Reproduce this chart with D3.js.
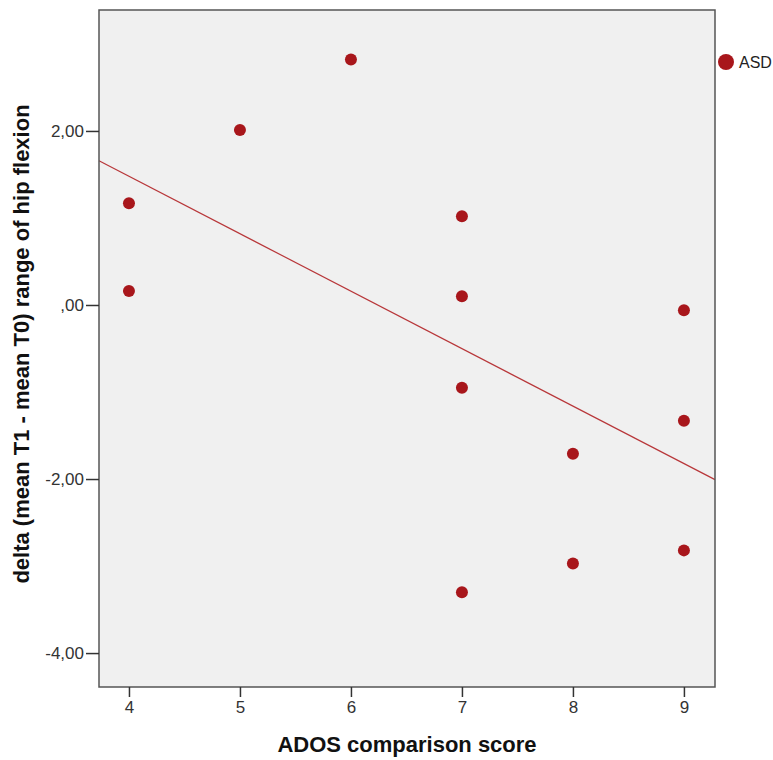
<!DOCTYPE html>
<html>
<head>
<meta charset="utf-8">
<script src="https://cdn.jsdelivr.net/npm/d3@7"></script>
<style>
  body { margin: 0; background: #fff; }
  text { font-family: "Liberation Sans", Arial, sans-serif; }
</style>
</head>
<body>
<div class="chart"></div>
<script>
const adosScore = [4, 4, 5, 6, 7, 7, 7, 7, 8, 8, 9, 9, 9];
const deltaHip = [1.17, 0.16, 2.01, 2.82, 1.02, 0.10, -0.95, -3.30, -1.71, -2.97, -0.06, -1.33, -2.82];
const xTicks = [4, 5, 6, 7, 8, 9];
const yTicks = [-4, -2, 0, 2];
const seriesName = "ASD";

const margin = { top: 10, right: 58, bottom: 73, left: 99 };
const width = 773 - margin.left - margin.right,
  height = 760 - margin.top - margin.bottom;

const pointColor = "#a8161b";
const lineColor = "#b8373a";

const svg = d3
  .select(".chart")
  .append("svg")
  .attr("width", 773)
  .attr("height", 760);

const g = svg
  .append("g")
  .attr("transform", "translate(" + margin.left + "," + margin.top + ")");

const x = d3.scaleLinear().domain([3.73, 9.28]).range([0, width]);
const y = d3.scaleLinear().domain([-4.39, 3.39]).range([height, 0]);

g.append("rect")
  .attr("width", width)
  .attr("height", height)
  .style("fill", "#f0f0f0");

// regression line (least squares)
const data = adosScore.map((d, i) => [d, deltaHip[i]]);
const mx = d3.mean(adosScore), my = d3.mean(deltaHip);
const slope =
  d3.sum(data, (d) => (d[0] - mx) * (d[1] - my)) /
  d3.sum(data, (d) => (d[0] - mx) * (d[0] - mx));
const icpt = my - slope * mx;
const [x0, x1] = x.domain();

g.append("line")
  .attr("x1", x(x0))
  .attr("y1", y(icpt + slope * x0))
  .attr("x2", x(x1))
  .attr("y2", y(icpt + slope * x1))
  .style("stroke", lineColor)
  .style("stroke-width", 1.2);

g.selectAll("circle.pt")
  .data(data)
  .enter()
  .append("circle")
  .attr("class", "pt")
  .attr("cx", (d) => x(d[0]))
  .attr("cy", (d) => y(d[1]))
  .attr("r", 6)
  .style("fill", pointColor);

// frame
g.append("rect")
  .attr("width", width)
  .attr("height", height)
  .style("fill", "none")
  .style("stroke", "#555")
  .style("stroke-width", 1.5);

// SPSS style: comma decimals, no leading zero for 0
const fmtY = (d) => (d === 0 ? ",00" : d.toFixed(2).replace(".", ","));

const xAxis = g
  .append("g")
  .attr("transform", "translate(0," + height + ")")
  .call(d3.axisBottom(x).tickValues(xTicks).tickSize(10).tickPadding(4).tickFormat(d3.format("d")));

const yAxis = g
  .append("g")
  .call(d3.axisLeft(y).tickValues(yTicks).tickSize(13).tickPadding(2).tickFormat(fmtY));

[xAxis, yAxis].forEach((a) => {
  a.select(".domain").remove();
  a.selectAll(".tick line").style("stroke", "#333").style("stroke-width", 1.5);
  a.selectAll(".tick text")
    .style("font-size", "17px")
    .style("fill", "#333")
    .style("font-family", "'Liberation Sans', Arial, sans-serif");
});

svg
  .append("text")
  .attr("x", margin.left + width / 2)
  .attr("y", 752)
  .attr("text-anchor", "middle")
  .style("font-size", "22px")
  .style("font-weight", "bold")
  .style("fill", "#111")
  .text("ADOS comparison score");

svg
  .append("text")
  .attr("transform", "translate(29," + 344 + ") rotate(-90)")
  .attr("text-anchor", "middle")
  .style("font-size", "22px")
  .style("font-weight", "bold")
  .style("fill", "#111")
  .text("delta (mean T1 - mean T0) range of hip flexion");

// legend
const legend = svg.append("g").attr("transform", "translate(726,62)");
legend.append("circle").attr("r", 8).style("fill", pointColor);
legend
  .append("text")
  .attr("x", 13)
  .attr("dy", "0.35em")
  .style("font-size", "16px")
  .style("fill", "#222")
  .text(seriesName);
</script>
</body>
</html>
